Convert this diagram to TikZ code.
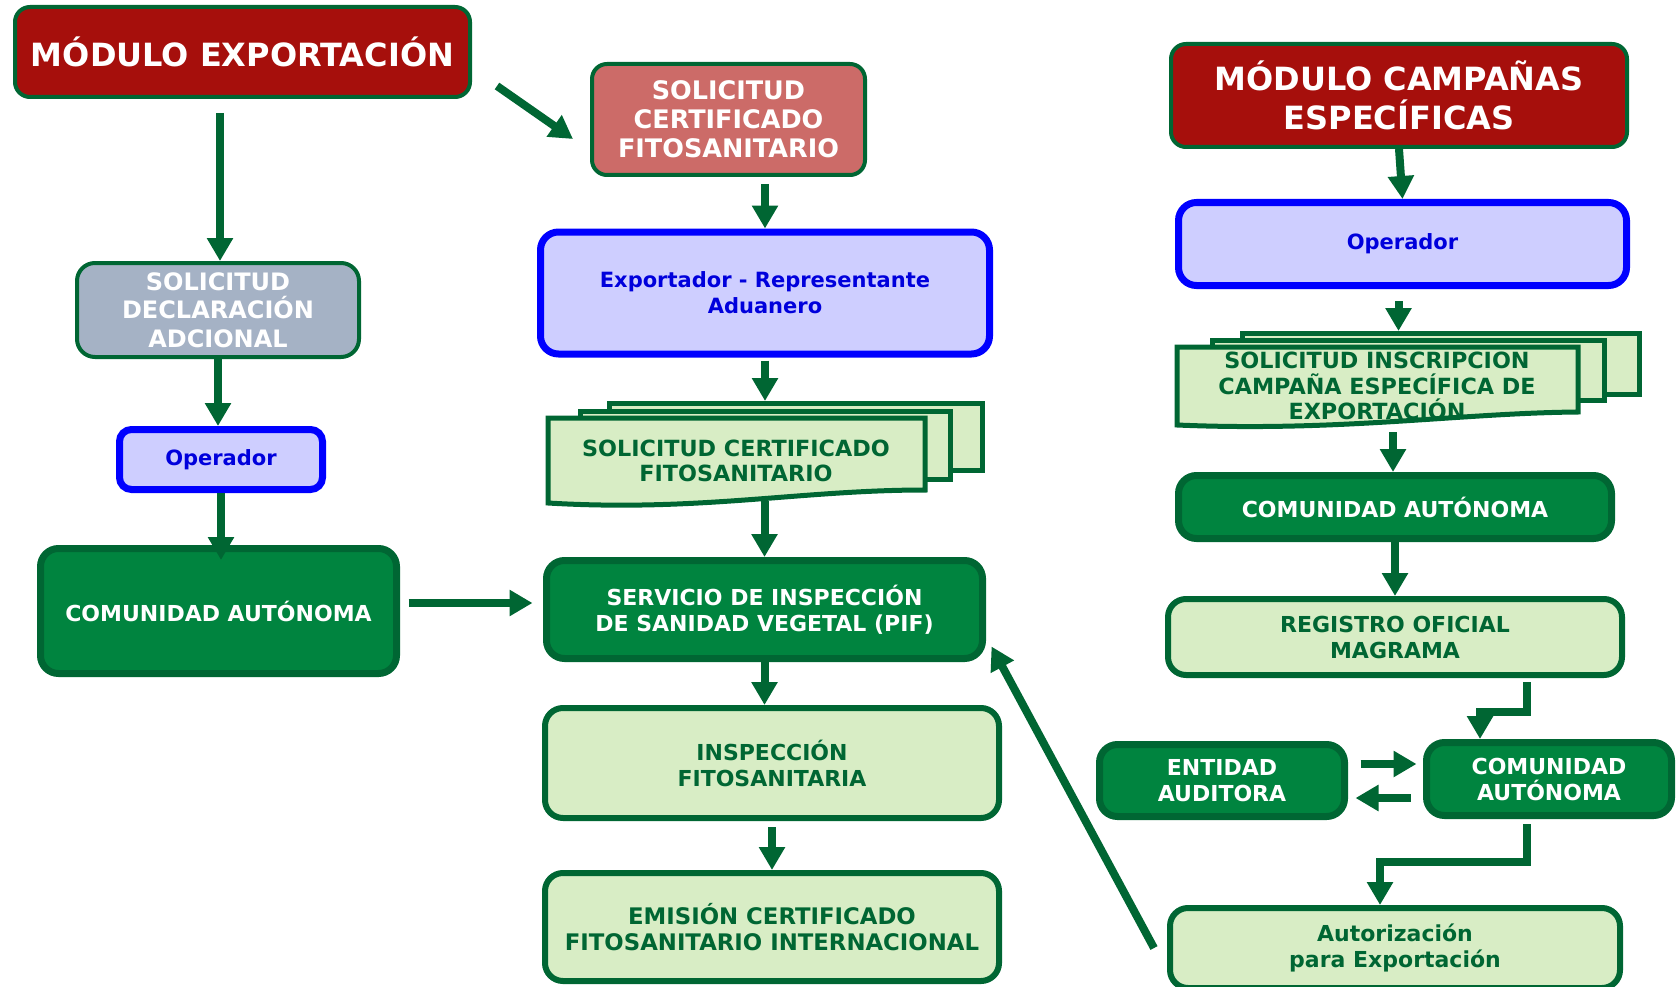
\documentclass[tikz,border=0pt]{standalone}
\usepackage{fontspec}
\setmainfont{DejaVu Sans}
\usepackage{tikz}
\usetikzlibrary{arrows.meta,calc}

\definecolor{borderGreen}{RGB}{0,102,51}
\definecolor{darkGreen}{RGB}{0,132,63}
\definecolor{paleGreen}{RGB}{216,237,197}
\definecolor{moduleRed}{RGB}{166,15,12}
\definecolor{solRed}{RGB}{204,107,104}
\definecolor{declGray}{RGB}{165,178,197}
\definecolor{opBlue}{RGB}{0,0,255}
\definecolor{opFill}{RGB}{206,206,255}
\definecolor{opText}{RGB}{0,0,220}

\begin{document}
\begin{tikzpicture}[x=1pt,y=-1pt,
  box/.style={rounded corners=18pt, align=center, inner sep=0pt, font=\bfseries\fontsize{22}{26}\selectfont},
  modbox/.style={box, draw=borderGreen, fill=moduleRed, line width=4pt, text=white, rounded corners=15pt, font=\bfseries\fontsize{32}{39}\selectfont},
  greenbox/.style={box, draw=borderGreen, fill=darkGreen, line width=7pt, text=white},
  palebox/.style={box, draw=borderGreen, fill=paleGreen, line width=6pt, text=borderGreen},
  bluebox/.style={box, draw=opBlue, fill=opFill, line width=7pt, text=opText, font=\bfseries\fontsize{21}{26}\selectfont},
  docsheet/.style={draw=borderGreen, fill=paleGreen, line width=5pt, inner sep=0pt},
  doctext/.style={align=center, inner sep=0pt, text=borderGreen, font=\bfseries\fontsize{22.3}{25.5}\selectfont},
  arr/.style={draw=borderGreen, line width=8pt, -{Triangle[length=23pt,width=25pt]}}]
\useasboundingbox (0,0) rectangle (1680,987);

% export module
\node[modbox, minimum width=455, minimum height=90] (modExp) at (242.5,52) {MÓDULO EXPORTACIÓN};
\node[modbox, fill=solRed, minimum width=273, minimum height=111, font=\bfseries\fontsize{25.5}{29}\selectfont] (solCert) at (728.5,119.5) {SOLICITUD\\CERTIFICADO\\FITOSANITARIO};
\node[box, draw=borderGreen, fill=declGray, line width=4pt, text=white, minimum width=282, minimum height=94, font=\bfseries\fontsize{24}{28.5}\selectfont] (solDecl) at (218,310) {SOLICITUD\\DECLARACIÓN\\ADCIONAL};
\node[bluebox, minimum width=449, minimum height=122] (exportador) at (765,293) {Exportador - Representante\\Aduanero};
\node[bluebox, rounded corners=12pt, minimum width=203, minimum height=60] (opLeft) at (221,459.5) {Operador};

\node[docsheet, minimum width=373, minimum height=67] (solBack) at (796,437) {};
\node[docsheet, minimum width=370, minimum height=68] (solMid) at (765.5,445.5) {};
\filldraw[docsheet] (548,418) -- (925,418) -- (925,490) .. controls (800,490) and (700,512) .. (548,503) -- cycle;
\node[doctext, minimum width=377, minimum height=80] (solDoc) at (736,461) {SOLICITUD CERTIFICADO\\FITOSANITARIO};

\node[greenbox, minimum width=356, minimum height=125] (caLeft) at (218.5,611) {COMUNIDAD AUTÓNOMA};
\node[greenbox, minimum width=436, minimum height=98] (servicio) at (764.5,609.5) {SERVICIO DE INSPECCIÓN\\DE SANIDAD VEGETAL (PIF)};
\node[palebox, minimum width=454, minimum height=110] (inspeccion) at (772,763) {INSPECCIÓN\\FITOSANITARIA};
\node[palebox, minimum width=454, minimum height=108, font=\bfseries\fontsize{22.8}{26}\selectfont] (emision) at (772,927) {EMISIÓN CERTIFICADO\\FITOSANITARIO INTERNACIONAL};

% campaigns module
\node[modbox, minimum width=456, minimum height=103] (modCamp) at (1399,95.5) {MÓDULO CAMPAÑAS\\ESPECÍFICAS};
\node[bluebox, minimum width=448, minimum height=83] (opRight) at (1402.5,244) {Operador};

\node[docsheet, minimum width=397, minimum height=61] (inscBack) at (1441,364) {};
\node[docsheet, minimum width=392, minimum height=60] (inscMid) at (1408.5,370.5) {};
\filldraw[docsheet] (1177,347) -- (1578,347) -- (1578,412) .. controls (1460,413) and (1340,432) .. (1177,425) -- cycle;
\node[doctext, minimum width=401, minimum height=82] (inscDoc) at (1377,386) {SOLICITUD INSCRIPCION\\CAMPAÑA ESPECÍFICA DE\\EXPORTACIÓN};

\node[greenbox, minimum width=433, minimum height=63] (caRight) at (1395,507) {COMUNIDAD AUTÓNOMA};
\node[palebox, minimum width=454, minimum height=76] (registro) at (1395,637) {REGISTRO OFICIAL\\MAGRAMA};
\node[greenbox, minimum width=245, minimum height=72] (entidad) at (1222,780.5) {ENTIDAD\\AUDITORA};
\node[greenbox, minimum width=245, minimum height=73] (caLow) at (1549,779) {COMUNIDAD\\AUTÓNOMA};
\node[palebox, minimum width=450, minimum height=80] (autoriz) at (1395,948) {Autorización\\para Exportación};

% arrows
\draw[arr] ($(modExp.south -| solDecl.north)+(2,14)$) -- ($(solDecl.north)+(2,0)$);
\draw[arr] ($(modExp.east)+(25,34)$) -- ($(solCert.west)+(-17,19.5)$);
\draw[arr] ($(solCert.south -| exportador.north)+(0,7)$) -- (exportador.north);
\draw[arr] ($(exportador.south)+(0,3)$) -- (exportador.south |- solBack.north);
\draw[arr] (servicio.north |- solDoc.south) -- (servicio.north);
\draw[arr] (solDecl.south) -- (solDecl.south |- opLeft.north);
\draw[arr] (opLeft.south) -- ($(opLeft.south |- caLeft.north)+(0,15)$);
\draw[arr] ($(caLeft.east)+(8.5,-8)$) -- ($(servicio.west)+(-10.5,-6.5)$);
\draw[arr] (servicio.south) -- (servicio.south |- inspeccion.north);
\draw[arr] ($(inspeccion.south)+(0,6)$) -- (emision.north);
\draw[arr] ($(autoriz.west)+(-13,0)$) -- ($(servicio.south east)+(5.5,-15.5)$);

\draw[arr] (modCamp.south) -- (opRight.north);
\draw[arr] ($(opRight.south)+(-4,12)$) -- ($(opRight.south |- inscBack.north)+(-4,0)$);
\draw[arr] ($(inscDoc.south -| caRight.north)+(-2,5)$) -- ($(caRight.north)+(-2,0)$);
\draw[arr] (caRight.south) -- (registro.north);
\coordinate (regBend) at (1480,712);
\draw[arr] ($(registro.south)+(132,4)$) |- (regBend) -- (regBend |- caLow.north);
\draw[arr] ($(entidad.east)+(12.5,-16.5)$) -- ($(caLow.west)+(-6.5,-15)$);
\draw[arr] ($(caLow.west)+(-12.5,19)$) -- ($(entidad.east)+(7.5,17.5)$);
\coordinate (caBend) at (1380,862);
\draw[arr] ($(caLow.south)+(-22,5)$) |- (caBend) -- (caBend |- autoriz.north);
\end{tikzpicture}
\end{document}
